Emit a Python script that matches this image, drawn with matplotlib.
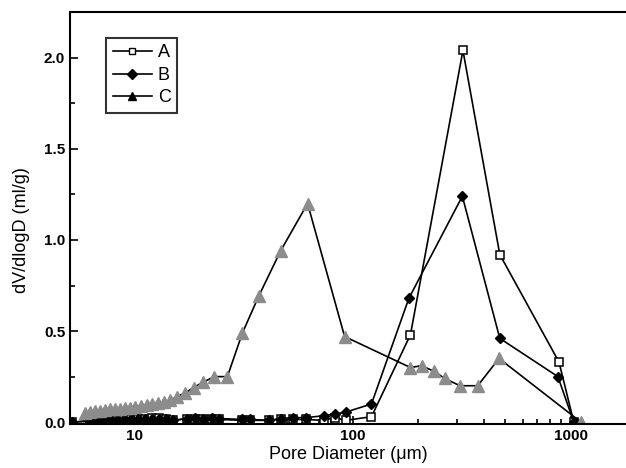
import matplotlib
matplotlib.use("Agg")
import matplotlib.pyplot as plt
from matplotlib.lines import Line2D
from matplotlib.ticker import MultipleLocator, LogLocator, NullFormatter

plt.rcParams['font.family'] = ['Liberation Sans', 'DejaVu Sans']

# datos
x_ab = [5.2, 6.28, 6.76, 7.21, 7.76, 8.36, 8.99, 9.69, 10.4, 11.2, 12.1, 13.0, 14.0,
        15.1, 17.5, 19.0, 20.7, 22.6, 24.5, 31.3, 34.0, 41.2, 46.8, 53.1, 60.9,
        73.6, 82.7, 92.9, 122]
a_low = [0.0, 0.005, 0.01, 0.01, 0.015, 0.01, 0.015, 0.02, 0.015, 0.02, 0.025, 0.025, 0.02,
         0.01, 0.02, 0.02, 0.02, 0.02, 0.015, 0.01, 0.01, 0.01, 0.015, 0.015, 0.015,
         0.01, 0.025, 0.01, 0.03]
b_low = [0.0, 0.01, 0.01, 0.015, 0.015, 0.01, 0.015, 0.02, 0.02, 0.02, 0.02, 0.02, 0.015,
         0.01, 0.02, 0.025, 0.02, 0.025, 0.02, 0.015, 0.015, 0.01, 0.02, 0.025, 0.025,
         0.035, 0.045, 0.055, 0.10]

x_a = x_ab + [184, 320, 472, 881, 1030]
y_a = a_low + [0.48, 2.04, 0.92, 0.33, 0.0]

x_b = x_ab + [181, 318, 472, 871, 1030]
y_b = b_low + [0.68, 1.24, 0.46, 0.25, 0.0]

x_c = [5.96, 6.28, 6.62, 6.98, 7.36, 7.76, 8.18, 8.63, 9.10, 9.59, 10.1, 10.7, 11.4,
       12.1, 12.9, 13.7, 14.6, 15.7, 17.1, 18.7, 20.7, 23.3, 26.7, 31.3, 37.1, 46.8,
       62.2, 91.9, 184, 207, 235, 264, 310, 374, 468, 1112]
y_c = [0.05, 0.055, 0.06, 0.06, 0.065, 0.07, 0.07, 0.075, 0.08, 0.08, 0.085, 0.09, 0.095,
       0.10, 0.105, 0.11, 0.12, 0.14, 0.16, 0.19, 0.22, 0.25, 0.25, 0.49, 0.69, 0.94,
       1.20, 0.47, 0.30, 0.31, 0.28, 0.24, 0.20, 0.20, 0.35, 0.0]

y_ticks = [0.0, 0.5, 1.0, 1.5, 2.0]

fig = plt.figure(figsize=(6.26, 4.68), dpi=100)
ax = fig.add_axes([0.1118, 0.094, 0.89, 0.880])

ax.plot(x_a, y_a, '-', color='black', lw=1.2, marker='s', ms=5.5,
        mfc='white', mec='black', mew=1.1)
ax.plot(x_b, y_b, '-', color='black', lw=1.2, marker='D', ms=5.5,
        mfc='black', mec='black')
ax.plot(x_c, y_c, '-', color='black', lw=1.2, marker='^', ms=8,
        mfc='#8c8c8c', mec='#8c8c8c')

ax.set_xscale('log')
ax.set_xlim(5.08, 1807)
ax.set_ylim(-0.01, 2.25)

ax.set_yticks(y_ticks)
ax.set_yticklabels(['%.1f' % v for v in y_ticks])
ax.yaxis.set_minor_locator(MultipleLocator(0.25))
ax.set_xticks([10, 100, 1000])
ax.set_xticklabels(['10', '100', '1000'])
ax.xaxis.set_minor_locator(LogLocator(base=10, subs=range(2, 10)))
ax.xaxis.set_minor_formatter(NullFormatter())

ax.tick_params(which='both', direction='in', top=False, right=False,
               labelsize=11, width=1.2)
ax.tick_params(which='major', length=6)
ax.tick_params(which='minor', length=3.5)
for lbl in ax.get_xticklabels() + ax.get_yticklabels():
    lbl.set_fontweight('bold')

for s in ['left', 'bottom', 'top']:
    ax.spines[s].set_linewidth(1.5)
ax.spines['right'].set_visible(False)

ax.set_xlabel('Pore Diameter (μm)', fontsize=13, labelpad=2)
ax.set_ylabel('dV/dlogD (ml/g)', fontsize=13)
ax.yaxis.set_label_coords(-0.072, 0.47)

# leyenda con marcadores pequeños en negro
handles = [
    Line2D([], [], color='black', lw=1.2, marker='s', ms=5, mfc='white', mec='black'),
    Line2D([], [], color='black', lw=1.2, marker='D', ms=5, mfc='black', mec='black'),
    Line2D([], [], color='black', lw=1.2, marker='^', ms=6, mfc='black', mec='black'),
]
leg = ax.legend(handles, ['A', 'B', 'C'], loc='upper left',
                bbox_to_anchor=(0.065, 0.937), fontsize=13,
                frameon=True, fancybox=False, edgecolor='black',
                handlelength=2.2, handletextpad=0.3, borderpad=0.35,
                labelspacing=0.3, borderaxespad=0)
leg.get_frame().set_linewidth(1.5)

fig.savefig('out.png', dpi=100)
